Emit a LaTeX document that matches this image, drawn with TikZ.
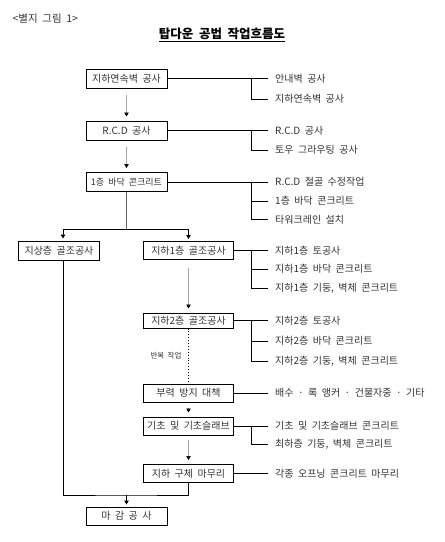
\documentclass[tikz,border=0pt]{standalone}
\usepackage{fontspec}
\setmainfont[WordSpace=2]{Noto Sans CJK KR}
\usetikzlibrary{arrows.meta,positioning}

\begin{document}
\begin{tikzpicture}[x=1pt, y=-1pt,
    every node/.style={font=\fontsize{10}{12}\selectfont, text=black!80},
    box/.style={draw=black, line width=1pt, minimum width=81pt, minimum height=19pt, inner sep=0pt},
    wbox/.style={box, minimum width=90pt, minimum height=18pt},
    item/.style={anchor=west, inner xsep=7pt, inner ysep=0pt},
    link/.style={line width=0.9pt, black},
    trunk/.style={line width=1.3pt, black!60},
    flow/.style={line width=0.5pt, black!35, shorten <=6pt, shorten >=4pt,
        -{Triangle[length=4pt, width=4.5pt, color=black]}},
    drop/.style={line width=0.8pt, black, shorten >=2pt,
        -{Triangle[length=4pt, width=4.5pt, color=black]}}]
    \useasboundingbox (0,0) rectangle (445,542);

    % Heading
    \node[anchor=west, font=\fontsize{10.5}{12}\selectfont] (tag) at (9,19) {<별지 그림 1>};
    \node[font=\bfseries\fontsize{12.5}{14}\selectfont, text=black] (title) at (222,35) {\underline{탑다운 공법 작업흐름도}};

    % Main steps
    \node[box] (wall) at (126.5,78.5) {지하연속벽 공사};
    \node[box] (rcd) at (126.5,130.5) {R.C.D 공사};
    \node[box, font=\fontsize{9}{11}\selectfont] (slab) at (126.5,182) {1층 바닥 콘크리트};
    \node[box] (upper) at (59,250.5) {지상층 골조공사};
    \node[wbox] (bone) at (188.5,250.5) {지하1층 골조공사};
    \node[wbox, minimum height=15pt] (btwo) at (188.5,320.5) {지하2층 골조공사};
    \node[wbox] (uplift) at (188.5,393) {부력 방지 대책};
    \node[wbox] (found) at (188.5,426) {기초 및 기초슬래브};
    \node[wbox] (close) at (188.5,473.5) {지하 구체 마무리};
    \node[box, minimum height=18pt] (last) at (126.5,516) {마 감 공 사};

    % Sub tasks
    \node[item] (wall1) at (268,78.5) {안내벽 공사};
    \node[item] (wall2) at (268,99) {지하연속벽 공사};
    \node[item] (rcd1) at (268,130.5) {R.C.D 공사};
    \node[item] (rcd2) at (268,150) {토우 그라우팅 공사};
    \node[item] (slab1) at (268,182) {R.C.D 철골 수정작업};
    \node[item] (slab2) at (268,201) {1층 바닥 콘크리트};
    \node[item] (slab3) at (268,219.5) {타워크레인 설치};
    \node[item] (bone1) at (268,250.5) {지하1층 토공사};
    \node[item] (bone2) at (268,269) {지하1층 바닥 콘크리트};
    \node[item] (bone3) at (268,288) {지하1층 기둥, 벽체 콘크리트};
    \node[item] (btwo1) at (268,320.5) {지하2층 토공사};
    \node[item] (btwo2) at (268,341) {지하2층 바닥 콘크리트};
    \node[item] (btwo3) at (268,361.5) {지하2층 기둥, 벽체 콘크리트};
    \node[item] (uplift1) at (268,393) {배수 · 록 앵커 · 건물자중 · 기타};
    \node[item] (found1) at (268,426) {기초 및 기초슬래브 콘크리트};
    \node[item] (found2) at (268,444.5) {최하층 기둥, 벽체 콘크리트};
    \node[item] (close1) at (268,473.5) {각종 오프닝 콘크리트 마무리};

    % Branches to sub tasks
    \draw[link] (wall.east) -- (wall1.west);
    \draw[link] ([xshift=-17pt]wall1.west) |- (wall2.west);
    \draw[link] (rcd.east) -- (rcd1.west);
    \draw[link] ([xshift=-17pt]rcd1.west) |- (rcd2.west);
    \draw[link] (slab.east) -- (slab1.west);
    \draw[link] ([xshift=-17pt]slab1.west) |- (slab3.west);
    \draw[link] ([xshift=-17pt]slab2.west) -- (slab2.west);
    \draw[link] (bone.east) -- (bone1.west);
    \draw[link] ([xshift=-17pt]bone1.west) |- (bone3.west);
    \draw[link] ([xshift=-17pt]bone2.west) -- (bone2.west);
    \draw[link] (btwo.east) -- (btwo1.west);
    \draw[link] ([xshift=-17pt]btwo1.west) |- (btwo3.west);
    \draw[link] ([xshift=-17pt]btwo2.west) -- (btwo2.west);
    \draw[link] (uplift.east) -- (uplift1.west);
    \draw[link] (found.east) -- (found1.west);
    \draw[link] ([xshift=-17pt]found1.west) |- (found2.west);
    \draw[link] (close.east) -- (close1.west);

    % Flow
    \draw[flow] (wall) -- (rcd);
    \draw[flow] (rcd) -- (slab);
    \coordinate (split) at (126.5,229);
    \coordinate (sl) at (63,229);
    \coordinate (sr) at (188.5,229);
    \draw[trunk] (slab) -- (split);
    \draw[link] (sl) -- (sr);
    \draw[drop] (sl) -- (sl |- upper.north);
    \draw[drop] (sr) -- (bone.north);
    \draw[flow, shorten <=8pt] (bone) -- (btwo);
    \draw[line width=0.9pt, dotted] (btwo) -- (uplift);
    \node[font=\fontsize{7.5}{9}\selectfont] (again) at (166,356) {반복 작업};
    \draw[flow, shorten <=5pt] (uplift) -- (found);
    \draw[flow, shorten <=4pt] (found) -- (close);
    \coordinate (merge) at (126.5,495);
    \draw[link] (sl |- upper.south) |- (merge) -| (close.south);
    \draw[drop] (merge) -- (last.north);
\end{tikzpicture}
\end{document}
